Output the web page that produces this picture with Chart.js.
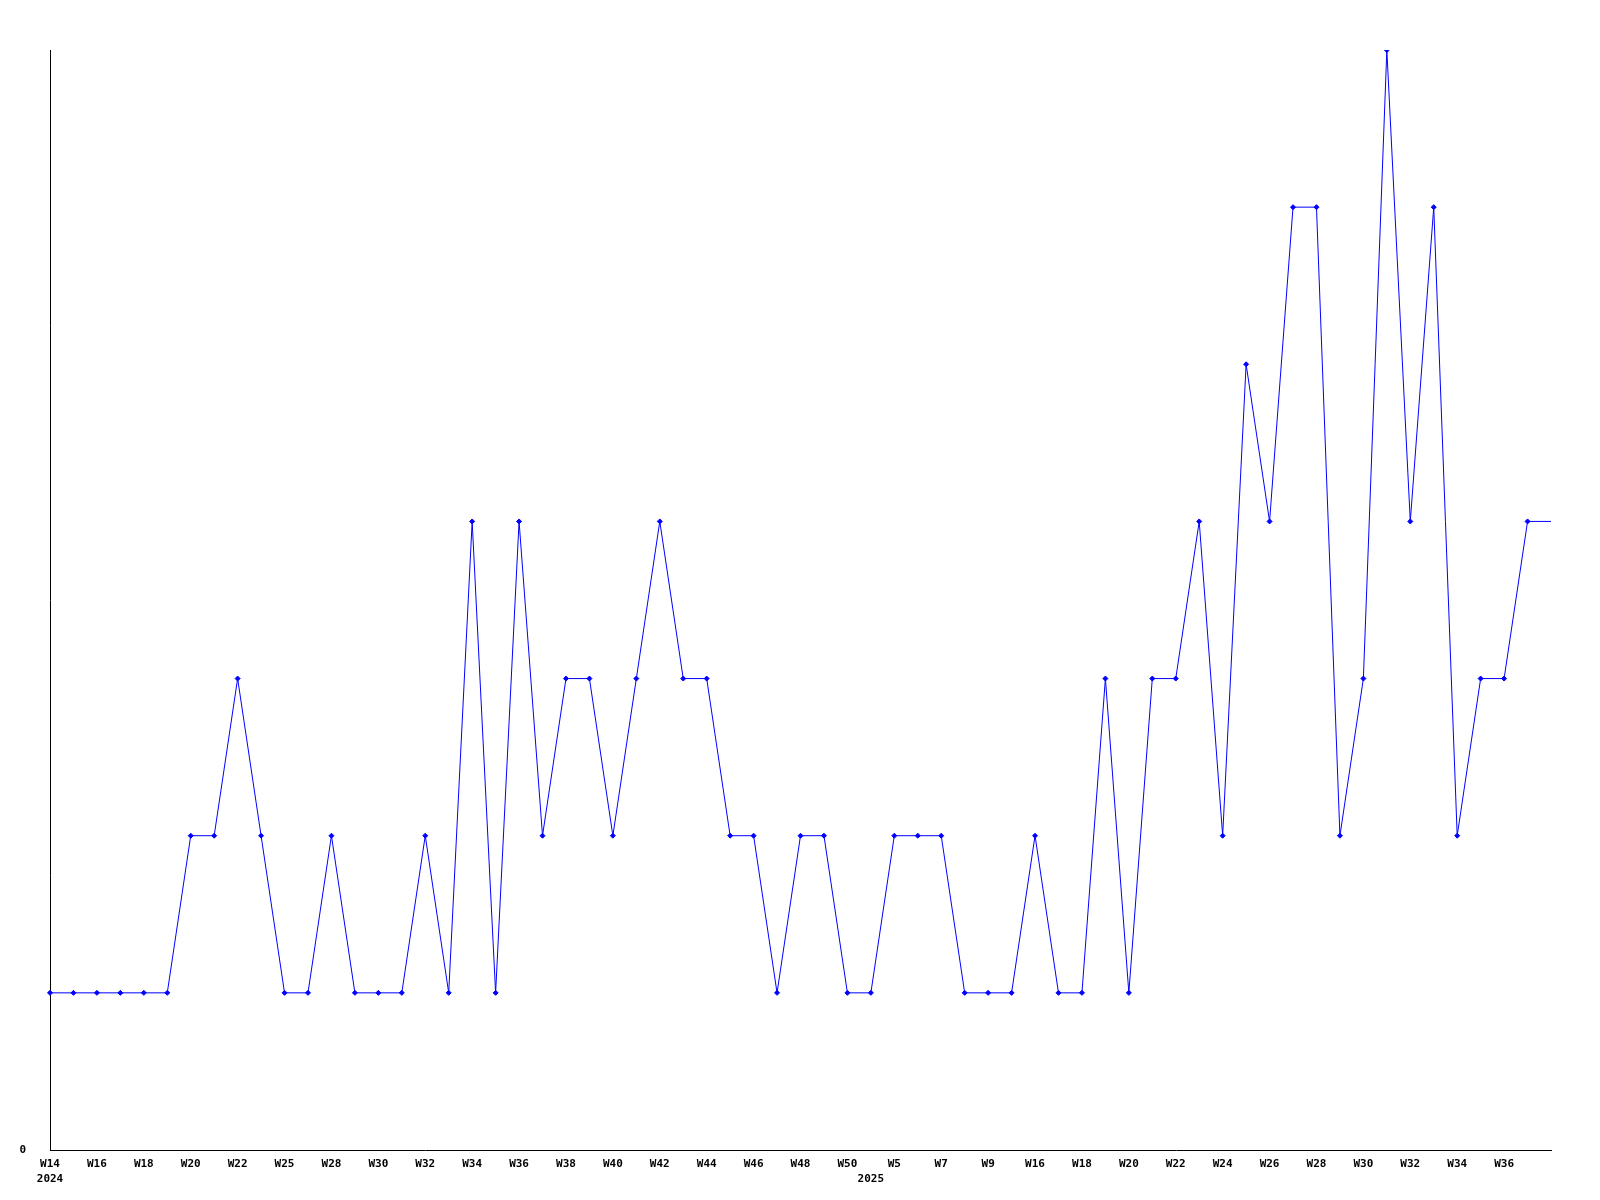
<!DOCTYPE html>
<html>
<head>
<meta charset="utf-8">
<script src="https://cdn.jsdelivr.net/npm/chart.js@4/dist/chart.umd.min.js"></script>
<style>
  body { margin: 0; background: #fff; }
  canvas { display: block; }
</style>
</head>
<body>
<canvas id="weekChart" width="1600" height="1200"></canvas>
<script>
const weeks = ['W14','W15','W16','W17','W18','W19','W20','W21','W22','W23',
  'W25','W27','W28','W29','W30','W31','W32','W33','W34','W35',
  'W36','W37','W38','W39','W40','W41','W42','W43','W44','W45',
  'W46','W47','W48','W49','W50','W1','W5','W6','W7','W8',
  'W9','W12','W16','W17','W18','W19','W20','W21','W22','W23',
  'W24','W25','W26','W27','W28','W29','W30','W31','W32','W33',
  'W34','W35','W36','W37','W38'];
const years = weeks.map((w, i) => i < 35 ? '2024' : '2025');
const counts = [1,1,1,1,1,1,2,2,3,2,
  1,1,2,1,1,1,2,1,4,1,
  4,2,3,3,2,3,4,3,3,2,
  2,1,2,2,1,1,2,2,2,1,
  1,1,2,1,1,3,1,3,3,4,
  2,5,4,6,6,2,3,7,4,6,
  2,3,3,4,4];
const yTicks = [0];

const labelFont = { family: 'DejaVu Sans Mono', size: 11, weight: 'bold', lineHeight: 1.35 };

const ctx = document.getElementById('weekChart').getContext('2d');
const chart = new Chart(ctx, {
  type: 'line',
  data: {
    labels: weeks,
    datasets: [{
      data: counts,
      borderColor: '#0000ff',
      backgroundColor: '#0000ff',
      borderWidth: 1,
      tension: 0,
      fill: false,
      pointStyle: 'rectRot',
      pointRadius: counts.map((v, i) => i === counts.length - 1 ? 0 : 2.5),
      pointBorderWidth: 1,
      pointHoverRadius: 0
    }]
  },
  options: {
    responsive: false,
    animation: false,
    layout: { padding: { top: 50, left: 19, right: 49, bottom: 13 } },
    plugins: {
      legend: { display: false },
      tooltip: { enabled: false }
    },
    scales: {
      x: {
        grid: { display: false, drawTicks: false },
        border: { display: true, color: '#000', width: 1 },
        afterFit: function (scale) { scale.height = 37; },
        ticks: {
          autoSkip: false,
          maxRotation: 0,
          padding: 7,
          color: '#000',
          font: labelFont,
          callback: function (v, i) {
            const newYear = i === 0 || years[i] !== years[i - 1];
            const week = (i % 2 === 0 && i < weeks.length - 1) ? weeks[i] : '';
            if (newYear) return [week, years[i]];
            return week;
          }
        }
      },
      y: {
        min: 0,
        max: 7,
        grid: { display: false, drawTicks: false },
        border: { display: true, color: '#000', width: 1 },
        afterBuildTicks: function (scale) {
          scale.ticks = yTicks.map(v => ({ value: v }));
        },
        afterFit: function (scale) { scale.width = 31; },
        ticks: {
          padding: 24,
          color: '#000',
          font: labelFont
        }
      }
    }
  }
});
</script>
</body>
</html>
